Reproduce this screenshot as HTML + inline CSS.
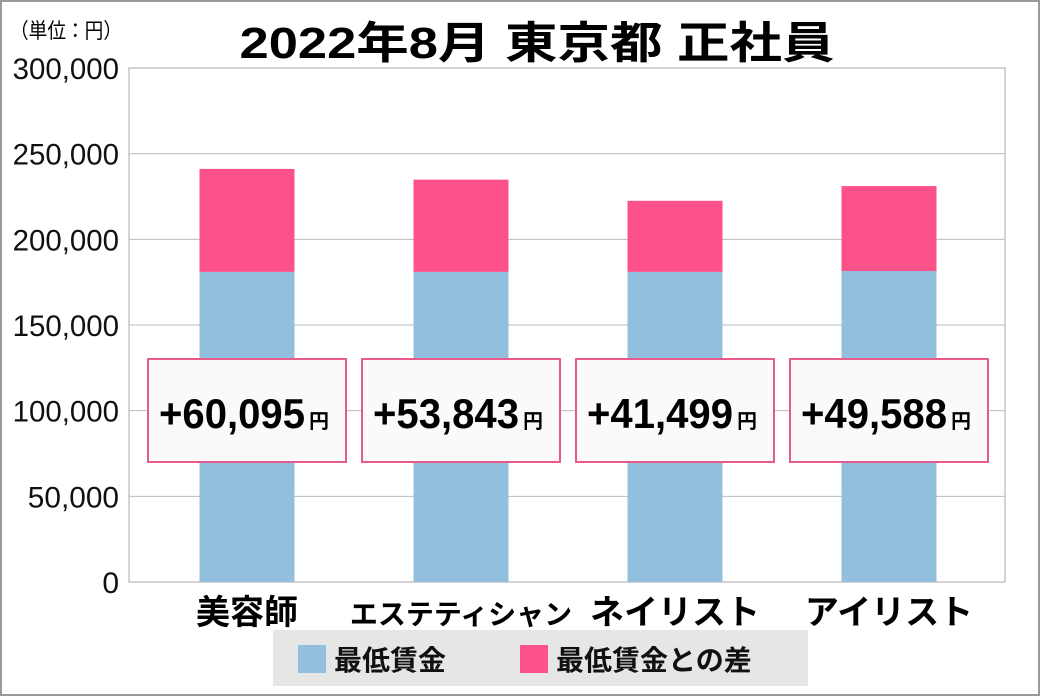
<!DOCTYPE html>
<html><head><meta charset="utf-8"><style>
body{margin:0;background:#fff;}
#wrap{position:relative;width:1040px;height:696px;overflow:hidden;font-family:"Liberation Sans","Noto Sans CJK JP",sans-serif;}
</style></head><body>
<div id="wrap">
<svg id="chart" width="1040" height="696" xmlns="http://www.w3.org/2000/svg"></svg>
</div>
<script>
const categories=["美容師","エステティシャン","ネイリスト","アイリスト"];
const baseValues=[181000,181000,181000,181500];
const diffValues=[60095,53843,41499,49588];
const diffLabels=["+60,095","+53,843","+41,499","+49,588"];
const yTicks=[0,50000,100000,150000,200000,250000,300000];
const yTickLabels=["0","50,000","100,000","150,000","200,000","250,000","300,000"];

const NS="http://www.w3.org/2000/svg";
const svg=document.getElementById('chart');
const L=129,R=1005,T=68,B=582,YMAX=300000;
const y=v=>B-(v/YMAX)*(B-T);
const STEP=214,FIRST=247;
const xc=i=>FIRST+STEP*i;
function el(tag,attrs,parent){const e=document.createElementNS(NS,tag);for(const k in attrs)e.setAttribute(k,attrs[k]);(parent||svg).appendChild(e);return e;}

const frame=el('rect',{x:1,y:1,width:1038,height:694,fill:'#fff',stroke:'#999','stroke-width':2});



const title=el('text',{x:537,y:58,'text-anchor':'middle','font-size':44,'font-weight':'bold',fill:'#000',textLength:595,lengthAdjust:'spacingAndGlyphs'});
title.textContent='2022年8月 東京都 正社員';


const unit=el('text',{x:10,y:38,'font-size':21,fill:'#000',textLength:112,lengthAdjust:'spacingAndGlyphs'});
unit.textContent='（単位：円）';



const plot=el('rect',{x:L,y:T,width:R-L,height:B-T,fill:'#fff',stroke:'#aaa','stroke-width':1});



yTicks.forEach((v,i)=>{
  if(v>0&&v<YMAX){const g=el('line',{x1:L,x2:R,y1:y(v),y2:y(v),stroke:'#bbb','stroke-width':1});
  
  }
  const lab=yTickLabels[i];
  const attrs={x:119,y:y(v)+11,'text-anchor':'end','font-size':30,fill:'#111'};
  if(lab.length>1){attrs.textLength=lab.length*15.2;attrs.lengthAdjust='spacingAndGlyphs';}
  const t=el('text',attrs);
  t.textContent=lab;
  
  
});

const bw=95;
categories.forEach((c,i)=>{
  const x=xc(i)-bw/2;
  const b=el('rect',{x:x,y:y(baseValues[i]),width:bw,height:B-y(baseValues[i]),fill:'#93bfde'});
  
  
  const top=baseValues[i]+diffValues[i];
  const d=el('rect',{x:x,y:y(top),width:bw,height:y(baseValues[i])-y(top),fill:'#fd5189'});
  
  
  const bx=el('rect',{x:xc(i)-99,y:359,width:198,height:103,fill:'#fafafa',stroke:'#e85a8c','stroke-width':2});
  
  
  const t=el('text',{x:xc(i)-15,y:428,'text-anchor':'middle','font-size':42,'font-weight':'bold',fill:'#000',textLength:146,lengthAdjust:'spacingAndGlyphs'});
  t.textContent=diffLabels[i];
  
  
  const u=el('text',{x:xc(i)+72,y:428,'text-anchor':'middle','font-size':20,'font-weight':'bold',fill:'#000'});
  u.textContent='円';
  
  
  const cl=el('text',{x:xc(i),y:624,'text-anchor':'middle','font-size':c.length>5?28:34,'font-weight':'bold',fill:'#000'});
  cl.textContent=c;
  
  
});

const lg=el('rect',{x:273,y:630,width:535,height:56,fill:'#e6e6e6'});


[[298,'#93bfde','最低賃金'],[520,'#fd5189','最低賃金との差']].forEach(([x,col,txt])=>{
  const s=el('rect',{x:x,y:645,width:28,height:28,fill:col});
  
  
  const t=el('text',{x:x+36,y:670,'font-size':28,'font-weight':'bold',fill:'#111'});
  t.textContent=txt;
  
  
});
</script>
</body></html>
